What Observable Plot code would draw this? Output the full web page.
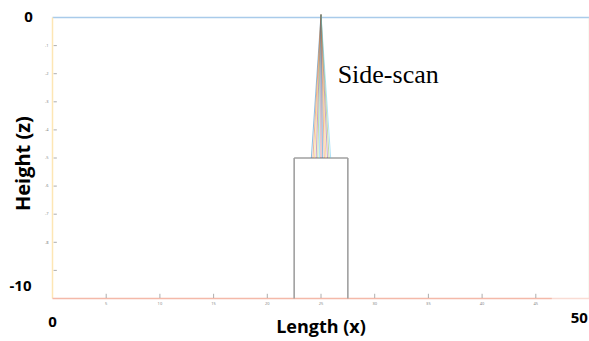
<!DOCTYPE html>
<html><head><meta charset="utf-8">
<script src="https://cdn.jsdelivr.net/npm/d3@7"></script>
<script src="https://cdn.jsdelivr.net/npm/@observablehq/plot@0.6"></script>
<style>body{margin:0;background:#fff}</style>
</head><body><div id="chart"></div>
<script>
// axis ticks
const yTicks = [-1, -2, -3, -4, -5, -6, -7, -8, -9];
const yTickLabels = ["-1", "-2", "-3", "-4", "-5", "-6", "-7", "-8", ""];
const xTicks = [5, 10, 15, 20, 25, 30, 35, 40, 45];
const xTickLabels = ["5", "10", "15", "20", "25", "30", "35", "40", "45"];

// building (tower) outline
const towerX = [22.5, 27.5];
const towerZ = [-10, -5];

// side-scan beam: apex and footprint of each ray
const apex = {x: 25, z: 0.1};
const rayEndX = [24.1, 24.25, 24.4, 24.55, 24.7, 24.85, 25.0, 25.15, 25.3, 25.45, 25.6, 25.75, 25.9];
const rayEndZ = -5;
const rayColors = ["#0072BD", "#D95319", "#EDB120", "#7E2F8E", "#77AC30", "#4DBEEE", "#A2142F"];

// box edges
const edges = [
  {x1: 0, y1: 0, x2: 50, y2: 0, c: "#a9cbea"},
  {x1: 0, y1: 0, x2: 0, y2: -10, c: "#fde6b4"},
  {x1: 50, y1: 0, x2: 50, y2: -10, c: "#dfeccc"},
  {x1: 46.5, y1: -10, x2: 50, y2: -10, c: "#f9dcd4"},
  {x1: 0, y1: -10, x2: 46.5, y2: -10, c: "#f4b9a9"}
];

const rays = rayEndX.map((x, i) => ({x1: apex.x, y1: apex.z, x2: x, y2: rayEndZ, c: rayColors[i % rayColors.length]}));
const tower = [
  {x1: towerX[0], y1: towerZ[0], x2: towerX[0], y2: towerZ[1]},
  {x1: towerX[0], y1: towerZ[1], x2: towerX[1], y2: towerZ[1]},
  {x1: towerX[1], y1: towerZ[1], x2: towerX[1], y2: towerZ[0]}
];

const bold = {fontFamily: "Open Sans", fontWeight: "bold", fill: "#000"};

const chart = Plot.plot({
  width: 589,
  height: 341,
  marginLeft: 52,
  marginRight: 0,
  marginTop: 17,
  marginBottom: 43,
  x: {domain: [0, 50], axis: null},
  y: {domain: [-10, 0], axis: null},
  style: {background: "#fff", overflow: "visible"},
  marks: [
    Plot.link(edges, {x1: "x1", y1: "y1", x2: "x2", y2: "y2", stroke: d => d.c, strokeWidth: 1.5}),
    Plot.ruleY(yTicks, {y: d => d, x1: 0.15, x2: 0.45, stroke: "#999", strokeWidth: 0.8}),
    Plot.text(yTicks, {x: 0, y: d => d, text: (d, i) => yTickLabels[i], dx: -4, textAnchor: "end", fontSize: 4, fill: "#888"}),
    Plot.ruleX(xTicks, {x: d => d, y1: -10, y2: -9.85, stroke: "#999", strokeWidth: 0.8}),
    Plot.text(xTicks, {x: d => d, y: -10, text: (d, i) => xTickLabels[i], dy: 5, fontSize: 4, fill: "#888"}),
    Plot.link(tower, {x1: "x1", y1: "y1", x2: "x2", y2: "y2", stroke: "#a0a0a0", strokeWidth: 1.6}),
    Plot.link(rays, {x1: "x1", y1: "y1", x2: "x2", y2: "y2", stroke: d => d.c, strokeWidth: 1, strokeOpacity: 0.45}),
    Plot.text(["Side-scan"], {x: 26.55, y: -2.05, text: d => d, textAnchor: "start", fontFamily: "Liberation Serif", fontSize: 26, fill: "#000"}),
    Plot.text(["0"], {x: 0, y: 0, text: d => d, dx: -24, textAnchor: "middle", fontSize: 15, ...bold}),
    Plot.text(["-10"], {x: 0, y: -9.55, text: d => d, dx: -32, textAnchor: "middle", fontSize: 15, ...bold}),
    Plot.text(["0"], {x: 0, y: -10, text: d => d, dy: 24, fontSize: 15, ...bold}),
    Plot.text(["50"], {x: 49.05, y: -10, text: d => d, dy: 20, fontSize: 15, ...bold}),
    Plot.text(["Length (x)"], {x: 25, y: -10, text: d => d, dy: 29, fontSize: 18, ...bold}),
    Plot.text(["Height (z)"], {x: 0, y: -5.2, text: d => d, dx: -29, rotate: -90, fontSize: 20, ...bold})
  ]
});
document.getElementById("chart").append(chart);
</script>
</body></html>
